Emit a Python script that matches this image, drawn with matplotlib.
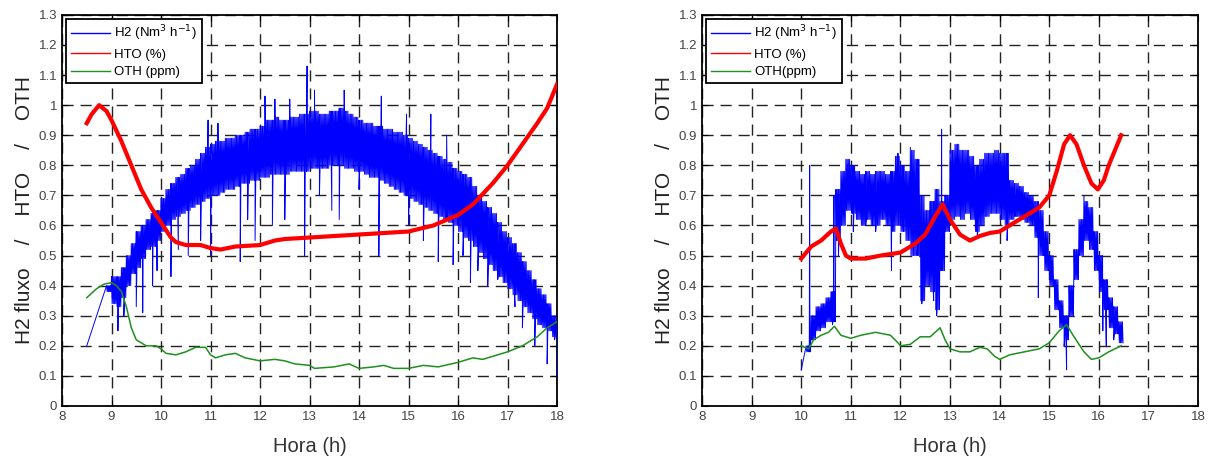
import numpy as np
import matplotlib
matplotlib.use("Agg")
import matplotlib.pyplot as plt

plt.rcParams['font.family'] = ['Liberation Sans', 'DejaVu Sans']

# ---- left panel data (hours) ----
left_t = np.round(np.arange(8.5, 18.01, 0.1), 2)
left_h2_hi = [0.20, 0.25, 0.30, 0.35, 0.40, 0.43, 0.43, 0.46, 0.50, 0.54,
              0.58, 0.60, 0.62, 0.64, 0.65, 0.69, 0.72, 0.74, 0.76, 0.77,
              0.79, 0.80, 0.82, 0.84, 0.86, 0.87, 0.88, 0.88, 0.89, 0.89,
              0.90, 0.90, 0.91, 0.92, 0.92, 0.93, 0.95, 0.95, 0.96, 0.95,
              0.95, 0.96, 0.96, 0.97, 0.97, 0.98, 0.98, 0.97, 0.97, 0.98,
              0.98, 0.99, 0.98, 0.97, 0.96, 0.95, 0.94, 0.94, 0.93, 0.93,
              0.92, 0.92, 0.91, 0.91, 0.90, 0.89, 0.88, 0.87, 0.86, 0.85,
              0.84, 0.83, 0.82, 0.81, 0.79, 0.78, 0.77, 0.76, 0.73, 0.70,
              0.68, 0.66, 0.64, 0.61, 0.58, 0.56, 0.54, 0.51, 0.48, 0.45,
              0.42, 0.39, 0.37, 0.34, 0.30, 0.28]
left_h2_lo = [0.20, 0.25, 0.30, 0.35, 0.38, 0.34, 0.33, 0.36, 0.40, 0.44,
              0.46, 0.49, 0.52, 0.53, 0.55, 0.58, 0.60, 0.62, 0.63, 0.64,
              0.65, 0.66, 0.67, 0.68, 0.69, 0.70, 0.70, 0.71, 0.72, 0.72,
              0.73, 0.74, 0.74, 0.75, 0.75, 0.76, 0.76, 0.77, 0.77, 0.77,
              0.77, 0.78, 0.78, 0.78, 0.78, 0.79, 0.79, 0.79, 0.79, 0.80,
              0.80, 0.80, 0.79, 0.79, 0.78, 0.78, 0.77, 0.76, 0.76, 0.75,
              0.74, 0.73, 0.72, 0.71, 0.70, 0.69, 0.68, 0.67, 0.66, 0.65,
              0.64, 0.63, 0.62, 0.61, 0.60, 0.58, 0.56, 0.55, 0.53, 0.51,
              0.49, 0.47, 0.45, 0.43, 0.41, 0.39, 0.37, 0.35, 0.33, 0.31,
              0.29, 0.27, 0.26, 0.25, 0.23, 0.20]
left_spike_t = [9.13, 9.25, 9.5, 9.63, 9.83, 9.92, 10.2, 10.35, 10.55, 10.8,
                10.95, 11.0, 11.15, 11.6, 11.75, 11.9, 12.1, 12.25, 12.3, 12.5,
                12.6, 12.9, 12.95, 13.1, 13.2, 13.45, 13.6, 13.7, 14.0, 14.4,
                14.45, 14.96, 15.0, 15.3, 15.45, 15.6, 15.77, 15.9, 16.1, 16.25,
                16.4, 16.6, 16.8, 17.0, 17.15, 17.3, 17.55, 17.8, 17.95, 18.0]
left_spike_v = [0.25, 0.30, 0.33, 0.31, 0.40, 0.45, 0.43, 0.52, 0.50, 0.55,
                0.95, 0.50, 0.94, 0.48, 0.62, 0.55, 1.03, 0.60, 1.02, 0.62,
                1.02, 0.50, 1.13, 1.05, 0.70, 0.65, 0.62, 1.05, 0.72, 0.50,
                1.03, 0.97, 0.60, 0.55, 0.97, 0.48, 0.90, 0.47, 0.50, 0.41,
                0.45, 0.40, 0.42, 0.45, 0.33, 0.26, 0.20, 0.14, 0.22, 0.10]

left_hto_t = [8.5, 8.6, 8.75, 8.9, 9.0, 9.2, 9.4, 9.6, 9.8, 10.0, 10.2, 10.3,
              10.5, 10.8, 11.0, 11.2, 11.5, 12.0, 12.3, 12.5, 13.0, 13.5, 14.0,
              14.5, 15.0, 15.5, 16.0, 16.3, 16.7, 17.0, 17.3, 17.6, 17.8, 18.0]
left_hto_v = [0.94, 0.97, 1.00, 0.98, 0.95, 0.88, 0.80, 0.72, 0.66, 0.61, 0.56,
              0.545, 0.535, 0.535, 0.525, 0.52, 0.53, 0.535, 0.55, 0.555, 0.56,
              0.565, 0.57, 0.575, 0.58, 0.60, 0.635, 0.67, 0.74, 0.80, 0.87,
              0.94, 0.99, 1.07]

left_oth_t = [8.5, 8.7, 8.85, 9.0, 9.1, 9.2, 9.3, 9.4, 9.5, 9.7, 9.9, 10.0,
              10.1, 10.3, 10.5, 10.7, 10.9, 11.0, 11.1, 11.3, 11.5, 11.7, 12.0,
              12.3, 12.5, 12.7, 13.0, 13.1, 13.5, 13.8, 14.0, 14.3, 14.5, 14.7,
              15.0, 15.3, 15.6, 16.0, 16.3, 16.5, 16.8, 17.0, 17.3, 17.6, 17.8,
              18.0]
left_oth_v = [0.36, 0.39, 0.405, 0.41, 0.40, 0.38, 0.33, 0.26, 0.22, 0.20,
              0.20, 0.19, 0.175, 0.17, 0.18, 0.195, 0.195, 0.17, 0.16, 0.17,
              0.175, 0.16, 0.15, 0.155, 0.15, 0.14, 0.135, 0.125, 0.13, 0.14,
              0.125, 0.13, 0.135, 0.125, 0.125, 0.135, 0.13, 0.145, 0.16, 0.155,
              0.17, 0.18, 0.20, 0.23, 0.26, 0.28]

# ---- right panel data ----
right_t = np.round(np.arange(10.0, 16.41, 0.1), 2)
right_h2_hi = [0.12, 0.20, 0.30, 0.33, 0.34, 0.36, 0.38, 0.72, 0.78, 0.82,
               0.80, 0.78, 0.77, 0.78, 0.77, 0.78, 0.78, 0.77, 0.78, 0.83,
               0.80, 0.78, 0.85, 0.82, 0.70, 0.65, 0.68, 0.72, 0.68, 0.70,
               0.85, 0.87, 0.85, 0.85, 0.83, 0.80, 0.82, 0.84, 0.84, 0.85,
               0.84, 0.84, 0.75, 0.74, 0.73, 0.71, 0.70, 0.68, 0.65, 0.58,
               0.50, 0.42, 0.35, 0.30, 0.40, 0.52, 0.62, 0.68, 0.66, 0.58,
               0.50, 0.42, 0.36, 0.33, 0.28]
right_h2_lo = [0.12, 0.18, 0.22, 0.25, 0.26, 0.28, 0.28, 0.55, 0.60, 0.65,
               0.64, 0.62, 0.60, 0.62, 0.60, 0.60, 0.62, 0.60, 0.58, 0.60,
               0.58, 0.55, 0.50, 0.50, 0.35, 0.40, 0.38, 0.32, 0.45, 0.58,
               0.62, 0.63, 0.62, 0.64, 0.62, 0.58, 0.60, 0.63, 0.64, 0.64,
               0.62, 0.60, 0.62, 0.63, 0.62, 0.61, 0.60, 0.56, 0.50, 0.45,
               0.40, 0.32, 0.26, 0.22, 0.30, 0.42, 0.50, 0.55, 0.52, 0.45,
               0.38, 0.32, 0.26, 0.24, 0.21]
right_spike_t = [10.17, 10.22, 10.63, 10.66, 10.75, 11.05, 11.3, 11.5, 11.82,
                 11.95, 12.05, 12.2, 12.35, 12.43, 12.6, 12.67, 12.73, 12.83,
                 13.1, 13.55, 13.95, 14.1, 14.15, 14.3, 14.78, 15.3, 15.35,
                 15.7, 16.08, 16.15, 16.3]
right_spike_v = [0.80, 0.22, 0.27, 0.70, 0.50, 0.58, 0.60, 0.58, 0.45,
                 0.84, 0.62, 0.86, 0.55, 0.34, 0.60, 0.35, 0.30, 0.92,
                 0.87, 0.57, 0.85, 0.84, 0.55, 0.65, 0.36, 0.20, 0.12,
                 0.70, 0.25, 0.20, 0.22]

right_hto_t = [10.0, 10.1, 10.2, 10.4, 10.6, 10.7, 10.8, 10.9, 11.0, 11.3,
               11.6, 12.0, 12.3, 12.5, 12.7, 12.85, 13.0, 13.2, 13.4, 13.6,
               13.8, 14.0, 14.2, 14.4, 14.6, 14.8, 15.0, 15.15, 15.3, 15.42,
               15.55, 15.7, 15.85, 15.98, 16.1, 16.2, 16.35, 16.45]
right_hto_v = [0.49, 0.51, 0.53, 0.55, 0.58, 0.59, 0.54, 0.50, 0.49, 0.49,
               0.50, 0.51, 0.54, 0.57, 0.63, 0.67, 0.62, 0.57, 0.55, 0.565,
               0.575, 0.58, 0.60, 0.62, 0.64, 0.66, 0.70, 0.78, 0.87, 0.90,
               0.87, 0.80, 0.74, 0.72, 0.75, 0.80, 0.86, 0.90]

right_oth_t = [10.0, 10.15, 10.25, 10.4, 10.55, 10.67, 10.8, 11.0, 11.2, 11.5,
               11.8, 11.95, 12.0, 12.2, 12.4, 12.6, 12.8, 12.9, 13.0, 13.2,
               13.4, 13.6, 13.75, 13.9, 14.0, 14.2, 14.5, 14.8, 15.0, 15.2,
               15.35, 15.5, 15.7, 15.85, 16.0, 16.2, 16.45]
right_oth_v = [0.20, 0.19, 0.22, 0.235, 0.245, 0.265, 0.235, 0.225, 0.235, 0.245,
               0.235, 0.21, 0.20, 0.205, 0.23, 0.23, 0.26, 0.22, 0.19, 0.18,
               0.18, 0.195, 0.19, 0.165, 0.155, 0.17, 0.18, 0.19, 0.21, 0.25,
               0.27, 0.23, 0.18, 0.155, 0.16, 0.18, 0.20]

xticks = list(range(8, 19))
yticks = [i / 10 for i in range(14)]
ytick_labels = ['0', '0.1', '0.2', '0.3', '0.4', '0.5', '0.6', '0.7', '0.8',
                '0.9', '1', '1.1', '1.2', '1.3']


def noisy_trace(t, hi, lo, st, sv, sub=8):
    # zigzag between the read upper / lower edge of the band, plus the spikes
    xs, ys = [], []
    step = 0.1 / sub
    for ti, h, l in zip(t, hi, lo):
        if h == l:
            xs.append(ti)
            ys.append(h)
            continue
        for k in range(sub):
            xs.append(ti + k * step)
            ys.append(h if k % 2 == 0 else l)
    xs = np.array(xs + list(st))
    ys = np.array(ys + list(sv))
    order = np.argsort(xs, kind='stable')
    return xs[order], ys[order]


fig = plt.figure(figsize=(12.11, 4.59), dpi=100)
ax1 = fig.add_axes([0.0512, 0.1155, 0.4088, 0.852])
ax2 = fig.add_axes([0.5797, 0.1155, 0.4096, 0.852])

panels = [
    (ax1, left_t, left_h2_hi, left_h2_lo, left_spike_t, left_spike_v,
     left_hto_t, left_hto_v, left_oth_t, left_oth_v, 'OTH (ppm)'),
    (ax2, right_t, right_h2_hi, right_h2_lo, right_spike_t, right_spike_v,
     right_hto_t, right_hto_v, right_oth_t, right_oth_v, 'OTH(ppm)'),
]

for ax, t, hi, lo, st, sv, rt, rv, gt, gv, oth_lbl in panels:
    bx, by = noisy_trace(t, hi, lo, st, sv)
    ax.plot(bx, by, color='#0000ff', lw=0.7, label='H2 (Nm$^3$ h$^{-1}$)', zorder=3)
    ax.plot(rt, rv, color='#ff0000', lw=3.0, label='HTO (%)', zorder=4)
    ax.plot(gt, gv, color='#1f8f1f', lw=1.1, label=oth_lbl, zorder=5)

    ax.set_xlim(8, 18)
    ax.set_ylim(0, 1.3)
    ax.set_xticks(xticks)
    ax.set_yticks(yticks)
    ax.set_yticklabels(ytick_labels)
    ax.tick_params(direction='in', top=True, right=True, length=4,
                   labelsize=9.5, labelcolor='#444444', width=0.8)
    ax.grid(True, color='#222222', linestyle=(0, (8, 5)), linewidth=1.0)
    for s in ax.spines.values():
        s.set_linewidth(1.3)
    ax.set_xlabel('Hora (h)', fontsize=14.5, color='#333333', labelpad=10)
    ax.set_ylabel('H2 fluxo    /    HTO    /    OTH', fontsize=15,
                  color='#222222', labelpad=3)
    leg = ax.legend(loc='upper left', fontsize=9.5, handlelength=3.0,
                    borderaxespad=0.3, fancybox=False, framealpha=1,
                    edgecolor='black', borderpad=0.35, labelspacing=0.4,
                    handletextpad=0.3)
    leg.get_frame().set_linewidth(1.3)
    for line in leg.get_lines():
        line.set_linewidth(1.0)

fig.savefig('out.png', dpi=100)
